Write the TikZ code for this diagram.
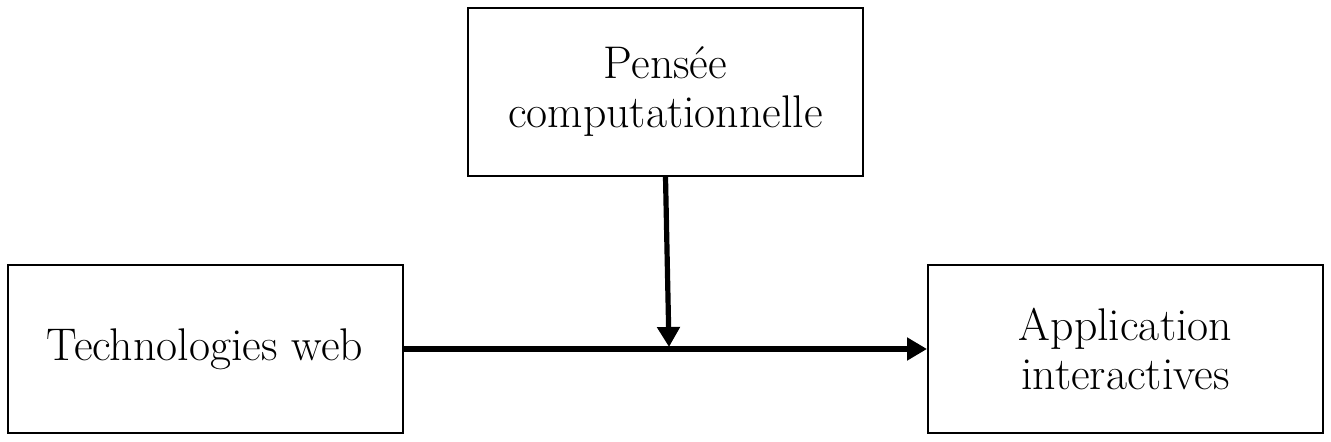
\documentclass[tikz,border=0pt]{standalone}
\usetikzlibrary{arrows.meta}
\begin{document}
\begin{tikzpicture}[x=0.5pt,y=-0.5pt,
  box/.style={draw=black,line width=1pt,rectangle,minimum width=197.5pt,minimum height=84pt,align=center,font=\fontsize{22.9}{24.5}\selectfont,inner sep=0pt},
  flow/.style={line width=3pt,-{Triangle[length=10pt,width=11pt]}}]
\useasboundingbox (0,0) rectangle (1331,442);
\node[box] (pc) at (665.5,92) {Pens\'ee\\computationnelle};
\node[box] (tw) at (205,349) {Technologies web};
\node[box] (ai) at (1125.5,349) {Application\\interactives};
\coordinate (j) at (669,347);
\draw[flow] (tw.east) -- (ai.west);
\draw[flow,line width=2.6pt] (pc.south) -- (j);
\end{tikzpicture}
\end{document}
